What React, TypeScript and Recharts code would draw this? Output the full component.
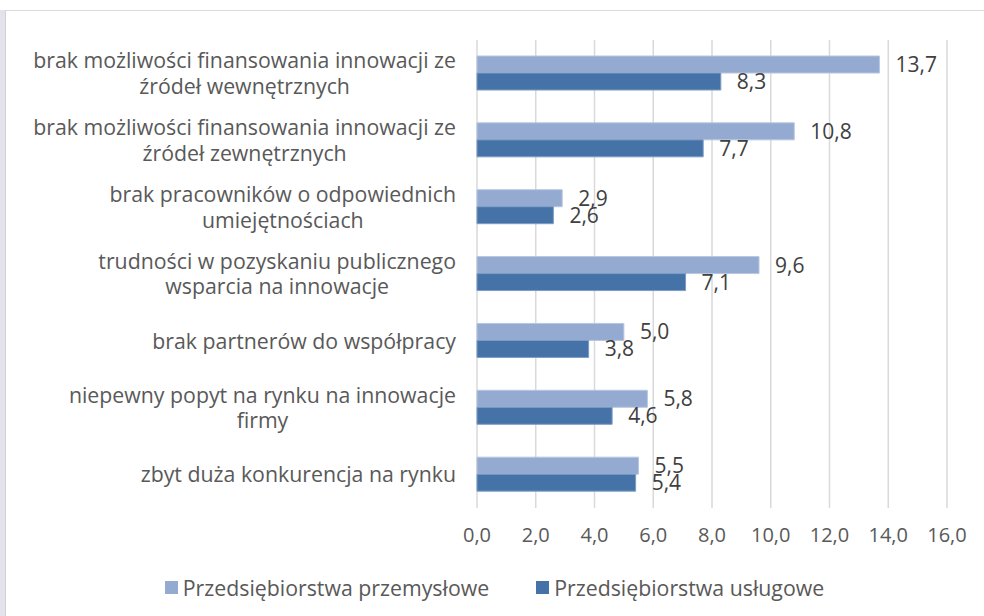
import { Bar, BarChart, CartesianGrid, LabelList, XAxis, YAxis } from "recharts";

const categories = [
  "brak możliwości finansowania innowacji ze\nźródeł wewnętrznych",
  "brak możliwości finansowania innowacji ze\nźródeł zewnętrznych",
  "brak pracowników o odpowiednich\numiejętnościach",
  "trudności w pozyskaniu publicznego\nwsparcia na innowacje",
  "brak partnerów do współpracy",
  "niepewny popyt na rynku na innowacje\nfirmy",
  "zbyt duża konkurencja na rynku",
];
const przemyslowe = [13.7, 10.8, 2.9, 9.6, 5.0, 5.8, 5.5];
const uslugowe = [8.3, 7.7, 2.6, 7.1, 3.8, 4.6, 5.4];
const xTicks = [0, 2, 4, 6, 8, 10, 12, 14, 16];

const seriesNames = ["Przedsiębiorstwa przemysłowe", "Przedsiębiorstwa usługowe"];
const LIGHT = "#94aad1";
const DARK = "#4673a7";
const FONT = "'Open Sans', sans-serif";
const CAT_SIZE = 21.3;
const TICK_SIZE = 20;
const LABEL_SIZE = 21;

const data = categories.map((name, i) => ({
  name,
  przemyslowe: przemyslowe[i],
  uslugowe: uslugowe[i],
}));

const fmt = (v: number) => v.toFixed(1).replace(".", ",");

let ctx: CanvasRenderingContext2D | null = null;
function measure(text: string) {
  if (!ctx) ctx = document.createElement("canvas").getContext("2d");
  if (!ctx) return text.length * 10;
  ctx.font = `${CAT_SIZE}px ${FONT}`;
  return ctx.measureText(text).width;
}

// category labels: block right-aligned, lines centred inside the block
function CategoryTick(props: any) {
  const { x, y, payload } = props;
  const lines: string[] = String(payload.value).split("\n");
  const maxW = Math.max(...lines.map(measure));
  const cx = x - maxW / 2;
  const lineH = 25.5;
  return (
    <g>
      {lines.map((line, i) => (
        <text
          key={i}
          x={cx}
          y={y + (i - (lines.length - 1) / 2) * lineH}
          dy="0.36em"
          textAnchor="middle"
          fill="#595959"
          fontSize={CAT_SIZE}
          fontFamily={FONT}
        >
          {line}
        </text>
      ))}
    </g>
  );
}

function ChartLegend() {
  const colors = [LIGHT, DARK];
  return (
    <div
      style={{
        position: "absolute",
        left: 5,
        top: 575,
        width: 979,
        height: 24,
        display: "flex",
        justifyContent: "center",
        alignItems: "center",
        gap: 47,
        fontFamily: FONT,
        fontSize: CAT_SIZE,
        color: "#595959",
        whiteSpace: "nowrap",
      }}
    >
      {seriesNames.map((n, i) => (
        <div key={n} style={{ display: "flex", alignItems: "center", gap: 5 }}>
          <span style={{ width: 13, height: 13, background: colors[i], display: "inline-block" }} />
          <span>{n}</span>
        </div>
      ))}
    </div>
  );
}

export default function App() {
  return (
    <div style={{ position: "absolute", left: 0, top: 0, width: 984, height: 616, background: "#fff", overflow: "hidden" }}>
      <div style={{ position: "absolute", left: 0, top: 10, width: 5, height: 606, background: "#e4e2ec" }} />
      <div style={{ position: "absolute", left: 5, top: 10, width: 979, height: 606, borderTop: "1px solid #dadada", borderLeft: "1px solid #d2d2d2", boxSizing: "border-box" }} />
      <div style={{ position: "absolute", left: 0, top: 0 }}>
        <BarChart
          width={984}
          height={616}
          data={data}
          layout="vertical"
          margin={{ top: 40, right: 37, bottom: 0, left: 0 }}
          barGap={0}
          barSize={17}
        >
          <CartesianGrid horizontal={false} stroke="#d9d9d9" strokeWidth={1.5} />
          <XAxis
            type="number"
            domain={[0, 16]}
            ticks={xTicks}
            tickFormatter={fmt}
            axisLine={false}
            tickLine={false}
            tickMargin={14}
            height={108}
            tick={{ fill: "#595959", fontSize: TICK_SIZE, fontFamily: FONT }}
            interval={0}
          />
          <YAxis
            type="category"
            dataKey="name"
            width={477}
            axisLine={false}
            tickLine={false}
            tickMargin={15}
            tick={<CategoryTick />}
            interval={0}
          />
          <Bar dataKey="przemyslowe" name={seriesNames[0]} fill={LIGHT} stroke="#b8c6e0" strokeWidth={1} isAnimationActive={false}>
            <LabelList dataKey="przemyslowe" position="right" offset={16} formatter={(v: any) => fmt(Number(v))} fill="#404040" fontSize={LABEL_SIZE} fontFamily={FONT} />
          </Bar>
          <Bar dataKey="uslugowe" name={seriesNames[1]} fill={DARK} stroke="#7d9cc4" strokeWidth={1} isAnimationActive={false}>
            <LabelList dataKey="uslugowe" position="right" offset={16} formatter={(v: any) => fmt(Number(v))} fill="#404040" fontSize={LABEL_SIZE} fontFamily={FONT} />
          </Bar>
        </BarChart>
      </div>
      <ChartLegend />
    </div>
  );
}
